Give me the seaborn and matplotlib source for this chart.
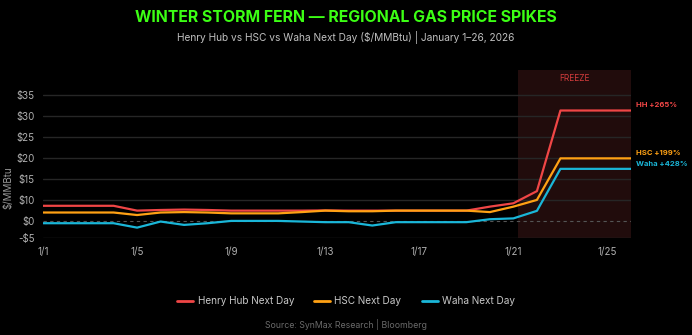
import matplotlib
matplotlib.use("Agg")
import matplotlib.pyplot as plt
import seaborn as sns
import pandas as pd
import numpy as np

# ---- data (plotted on the chart's own display scale) ----
days = list(range(1, 27))
henry_hub = [8.6, 8.6, 8.6, 8.6, 7.45, 7.6, 7.7, 7.6, 7.45, 7.45, 7.45, 7.45, 7.5,
             7.45, 7.45, 7.45, 7.45, 7.45, 7.45, 8.4, 9.2, 12.1, 31.3, 31.3, 31.3, 31.3]
hsc = [7.0, 7.0, 7.0, 7.0, 6.4, 7.0, 7.1, 7.0, 6.8, 6.8, 6.8, 7.1, 7.45,
       7.3, 7.3, 7.45, 7.45, 7.45, 7.45, 7.1, 8.4, 10.0, 19.9, 19.9, 19.9, 19.9]
waha = [4.45, 4.45, 4.45, 4.45, 3.4, 4.85, 4.05, 4.45, 5.0, 5.0, 5.0, 4.85, 4.7,
        4.7, 3.9, 4.7, 4.7, 4.7, 4.7, 5.4, 5.6, 7.4, 17.4, 17.4, 17.4, 17.4]
series_names = ["Henry Hub Next Day", "HSC Next Day", "Waha Next Day"]
end_labels = ["HH +265%", "HSC +199%", "Waha +428%"]
ytick_vals = [1, 5, 10, 15, 20, 25, 30, 35]
ytick_labels = ["-$5", "$0", "$10", "$15", "$20", "$25", "$30", "$35"]
xtick_days = [1, 5, 9, 13, 17, 21, 25]
xtick_labels = ["1/1", "1/5", "1/9", "1/13", "1/17", "1/21", "1/25"]
zero_line = 5
freeze_start, freeze_end = 21.2, 26

colors = ["#f04646", "#ffa114", "#1ab6d8"]

df = pd.DataFrame({
    "day": days * 3,
    "price": henry_hub + hsc + waha,
    "series": sum([[n] * len(days) for n in series_names], []),
})

sns.set_theme(style="dark")
plt.rcParams["font.family"] = ["Inter", "DejaVu Sans"]
plt.rcParams["figure.facecolor"] = "black"
plt.rcParams["axes.facecolor"] = "black"

fig = plt.figure(figsize=(6.92, 3.35), dpi=100)
ax = fig.add_axes([43 / 692, 1 - 237.7 / 335, (631 - 43) / 692, (237.7 - 70) / 335])
ax.set_facecolor("black")

ax.axvspan(freeze_start, freeze_end, color="#210c0c", zorder=0, lw=0)
for v in ytick_vals:
    if v != zero_line:
        ax.axhline(v, color="#262626", lw=1.0, zorder=1)
ax.axhline(zero_line, color="#555555", lw=0.8, ls=(0, (3, 3)), zorder=1)

sns.lineplot(data=df, x="day", y="price", hue="series", palette=colors,
             linewidth=1.6, ax=ax, legend=False, zorder=3)

ax.set_xlim(1, 26)
ax.set_ylim(1.0, 40.95)
ax.set_yticks(ytick_vals)
ax.set_yticklabels(ytick_labels)
ax.set_xticks(xtick_days)
ax.set_xticklabels(xtick_labels)
ax.tick_params(axis="both", colors="#b0b0b0", labelsize=7, length=0, pad=6)
ax.tick_params(axis="x", pad=7)
ax.grid(False)
for s in ax.spines.values():
    s.set_visible(False)
ax.set_xlabel("")
ax.set_ylabel("$/MMBtu", color="#9a9a9a", fontsize=7, labelpad=8)
ax.yaxis.set_label_coords(-0.050, 0.30)

ax.text((freeze_start + freeze_end) / 2, 39.0, "FREEZE", color="#d63c3c",
        fontsize=6, ha="center", va="center")

ends = [henry_hub[-1], hsc[-1], waha[-1]]
offsets = [1.3, 1.3, 1.2]
for lab, v, off, c in zip(end_labels, ends, offsets, colors):
    ax.text(26.2, v + off, lab, color=c, fontsize=5.5, fontweight="bold",
            ha="left", va="center", clip_on=False)

fig.text(0.5, 1 - 17 / 335, "WINTER STORM FERN \u2014 REGIONAL GAS PRICE SPIKES",
         color="#3cff14", fontsize=11.4, fontweight="bold", ha="center", va="center")
fig.text(0.5, 1 - 37 / 335,
         "Henry Hub vs HSC vs Waha Next Day ($/MMBtu) | January 1\u201326, 2026",
         color="#c0c0c0", fontsize=7.3, ha="center", va="center")

handles = [plt.Line2D([0], [0], color=c, lw=2) for c in colors]
leg = fig.legend(handles, series_names, loc="center", bbox_to_anchor=(0.5, 1 - 301 / 335),
                 ncol=3, frameon=False, fontsize=7.2, handlelength=1.6,
                 columnspacing=2.0, handletextpad=0.45)
for t in leg.get_texts():
    t.set_color("#c8c8c8")

fig.text(0.5, 1 - 324 / 335, "Source: SynMax Research | Bloomberg",
         color="#6a6a6a", fontsize=6.3, ha="center", va="center")

fig.savefig("out.png", dpi=100, facecolor="black")
